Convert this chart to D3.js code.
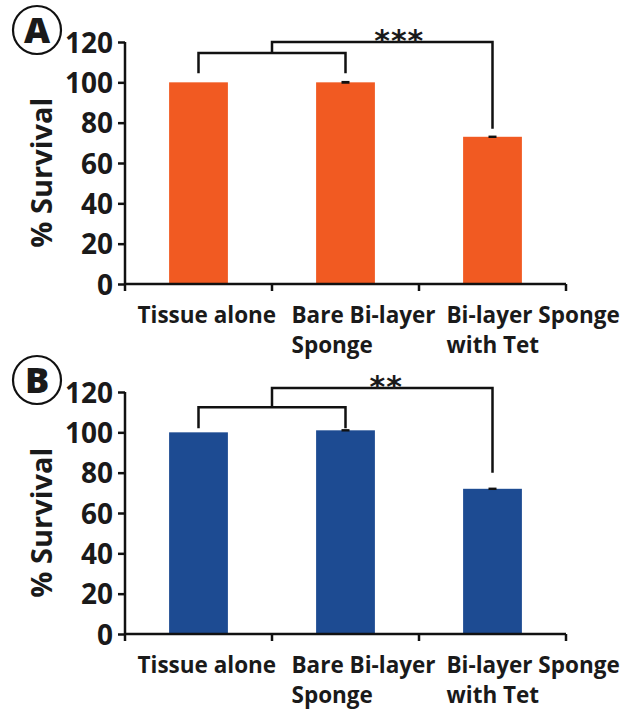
<!DOCTYPE html>
<html>
<head>
<meta charset="utf-8">
<script src="https://cdn.jsdelivr.net/npm/d3@7/dist/d3.min.js"></script>
<style>
  body { margin: 0; background: #fff; }
  text { font-family: "Open Sans", "Noto Sans", sans-serif; font-weight: bold; fill: #1a1a1a; }
</style>
</head>
<body>
<div id="chart"></div>
<script>
// -- data --
var categories = [["Tissue alone"], ["Bare Bi-layer", "Sponge"], ["Bi-layer Sponge", "with Tet"]];
var survivalA = [100, 100, 73];
var errorA = [0, 0.7, 0.6];
var survivalB = [100, 101, 72];
var errorB = [0, 0.6, 0.6];
var yTicks = [0, 20, 40, 60, 80, 100, 120];

// bracket levels (in % units): [low bar level, low legs end, high bar level, long leg end]
var bracketA = [114.5, 104.5, 120, 77];
var bracketB = [112.5, 102, 122, 80];
var starsA = "***";
var starsB = "**";

var W = 627, H = 714;
// left edge of each category label, relative to its bar centre
var labelShift = [-61, -54, -46];

var svg = d3.select("#chart")
  .append("svg")
  .attr("width", W)
  .attr("height", H);

var drawPanel = function(top, values, errs, color, bracket, stars, letter, starShift) {
  var margin = { top: 42, left: 125, right: 61 };
  var height = 242;
  var width = W - margin.left - margin.right;

  var g = svg.append("g")
    .attr("transform", "translate(" + margin.left + "," + (top + margin.top) + ")");

  var x = d3.scaleBand()
    .domain(d3.range(categories.length))
    .range([0, width])
    .paddingInner(0.6)
    .paddingOuter(0.3);

  var y = d3.scaleLinear()
    .domain([0, 120])
    .range([height, 0]);

  var cx = function (i) { return x(i) + x.bandwidth() / 2; };

  // bars
  g.selectAll("rect.bar")
    .data(values)
    .enter()
    .append("rect")
    .attr("class", "bar")
    .attr("x", function (d, i) { return x(i); })
    .attr("y", function (d) { return y(d); })
    .attr("width", x.bandwidth())
    .attr("height", function (d) { return y(0) - y(d); })
    .attr("fill", color);

  // error bars (tiny)
  g.selectAll("rect.err")
    .data(values)
    .enter()
    .append("rect")
    .attr("class", "err")
    .attr("x", function (d, i) { return cx(i) - 4; })
    .attr("y", function (d, i) { return y(d + errs[i]); })
    .attr("width", 8)
    .attr("height", function (d, i) { return y(d - errs[i]) - y(d + errs[i]); })
    .attr("fill", "#111")
    .style("display", function (d, i) { return errs[i] > 0 ? null : "none"; });

  // y axis
  var y_axis = d3.axisLeft(y)
    .tickValues(yTicks)
    .tickSize(7)
    .tickPadding(5);
  var ya = g.append("g").call(y_axis);
  ya.select(".domain").attr("d", "M0," + y(120) + "V" + y(0)).attr("stroke", "#111").attr("stroke-width", 2.5);
  ya.selectAll(".tick line").attr("stroke", "#111").attr("stroke-width", 2.5);
  ya.selectAll(".tick text").style("font-size", "28px").attr("dy", "0.36em");

  // x axis with ticks at category boundaries
  var xa = g.append("g").attr("transform", "translate(0," + height + ")");
  xa.append("line")
    .attr("x1", 0).attr("x2", width)
    .attr("stroke", "#111").attr("stroke-width", 2.5);
  xa.selectAll("line.tk")
    .data(d3.range(categories.length + 1))
    .enter()
    .append("line")
    .attr("class", "tk")
    .attr("x1", function (d) { return x.step() * d; })
    .attr("x2", function (d) { return x.step() * d; })
    .attr("y1", 0).attr("y2", 7)
    .attr("stroke", "#111").attr("stroke-width", 2.5);

  var labels = xa.selectAll("text.lbl")
    .data(categories)
    .enter()
    .append("text")
    .attr("class", "lbl")
    .attr("text-anchor", "start")
    .attr("transform", function (d, i) { return "translate(" + (cx(i) + labelShift[i]) + ",39)"; })
    .style("font-size", "22.5px");
  labels.selectAll("tspan")
    .data(function (d) { return d; })
    .enter()
    .append("tspan")
    .attr("x", 0)
    .attr("dy", function (d, i) { return i == 0 ? 0 : 30; })
    .text(function (d) { return d; });

  // y title
  g.append("text")
    .text("% Survival")
    .attr("text-anchor", "middle")
    .attr("transform", "translate(-73," + (height * 0.54) + ") rotate(-90)")
    .style("font-size", "29px");

  // significance brackets
  var mid = (cx(0) + cx(1)) / 2;
  var br = g.append("g").attr("fill", "none").attr("stroke", "#111").attr("stroke-width", 2.5);
  br.append("path")
    .attr("d", "M" + cx(0) + "," + y(bracket[1]) + "V" + y(bracket[0]) + "H" + cx(1) + "V" + y(bracket[1]));
  br.append("path")
    .attr("d", "M" + mid + "," + y(bracket[0]) + "V" + y(bracket[2]) + "H" + cx(2) + "V" + y(bracket[3]));

  g.append("text")
    .text(stars)
    .attr("text-anchor", "middle")
    .attr("x", (mid + cx(2)) / 2 + starShift)
    .attr("y", y(bracket[2]) + 9)
    .style("font-size", "30px")
    .style("font-family", "'DejaVu Sans', sans-serif")
    .style("font-weight", "bold")
    .style("letter-spacing", "1px");

  // panel letter
  var lg = svg.append("g").attr("transform", "translate(37," + (top + 30) + ")");
  lg.append("circle").attr("r", 24).attr("fill", "none").attr("stroke", "#111").attr("stroke-width", 2.2);
  lg.append("text").text(letter)
    .attr("text-anchor", "middle")
    .attr("dy", "0.37em")
    .style("font-size", "36px")
    .style("font-weight", "800");
};

drawPanel(0, survivalA, errorA, "#f15a22", bracketA, starsA, "A", 17);
drawPanel(350, survivalB, errorB, "#1d4b92", bracketB, starsB, "B", 4);
</script>
</body>
</html>
